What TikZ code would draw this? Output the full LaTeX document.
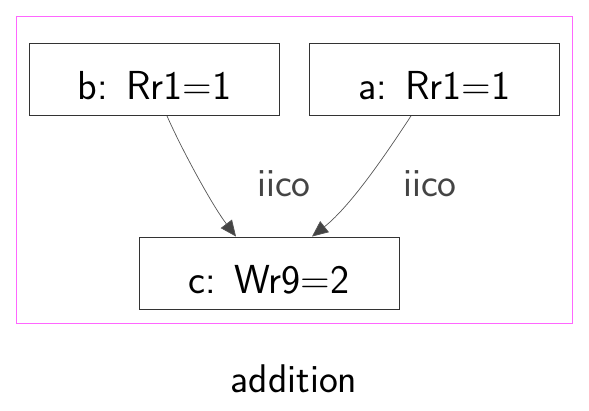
\documentclass[tikz,border=0pt]{standalone}
\usepackage{fontspec}
\usetikzlibrary{arrows.meta}
\definecolor{frameC}{HTML}{FF66FF}
\definecolor{edgeC}{HTML}{555555}
\definecolor{labelC}{HTML}{444444}

\begin{document}
\begin{tikzpicture}[x=1pt, y=-1pt,
  evt/.style={rectangle, draw=black!80, line width=0.9pt, minimum width=250pt,
              minimum height=72pt, inner sep=0pt, text height=41pt, text depth=0pt,
              font=\sffamily\fontsize{40.5}{48}\selectfont},
  rel/.style={-{Triangle[length=16pt, width=14pt, fill=labelC]}, draw=edgeC,
              line width=0.7pt},
  rlbl/.style={anchor=base, inner sep=0pt, text=labelC,
               font=\sffamily\fontsize{40}{48}\selectfont},
  titlelbl/.style={anchor=base, inner sep=0pt, font=\sffamily\fontsize{40}{48}\selectfont}
]
\useasboundingbox (0,0) rectangle (589,411);
\draw[frameC, line width=0.9pt] (16,16) rectangle (572,323);

\node[evt] (b) at (154.5,79.5) {b:\hspace{0.45em}Rr1=1};
\node[evt] (a) at (434.5,79.5) {a:\hspace{0.45em}Rr1=1};
\node[evt, minimum width=260pt] (c) at (269,273) {c:\hspace{0.45em}Wr9=2};

\draw[rel] ([xshift=12.5pt]b.south) .. controls (182,150) and (212,205) .. ([xshift=-33pt]c.north);
\draw[rel] ([xshift=-23.5pt]a.south) .. controls (390,148) and (352,205) .. ([xshift=43pt]c.north);

\node[rlbl] (l1) at (284,197) {iico};
\node[rlbl] (l2) at (430,197) {iico};

\node[titlelbl] (title) at (294,393) {addition};
\end{tikzpicture}
\end{document}
